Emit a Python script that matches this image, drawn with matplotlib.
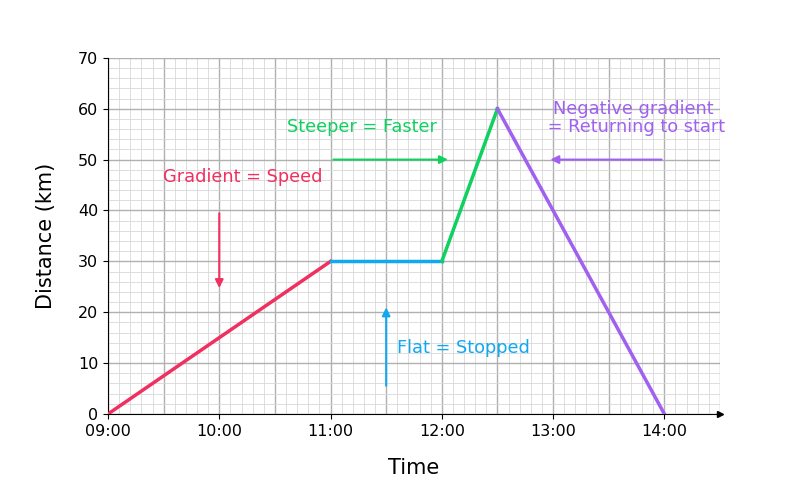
import matplotlib
matplotlib.use("Agg")
import matplotlib.pyplot as plt
import numpy as np

seg_x = [[9, 11], [11, 12], [12, 12.5], [12.5, 14]]
seg_y = [[0, 30], [30, 30], [30, 60], [60, 0]]
seg_c = ["#f03060", "#10a8f0", "#10d060", "#a060f0"]
xticks = [9, 10, 11, 12, 13, 14]
xlabels = ["09:00", "10:00", "11:00", "12:00", "13:00", "14:00"]

fig = plt.figure(figsize=(8, 4.8), dpi=100)
ax = fig.add_axes([0.135, 0.1375, 0.765, 0.742])
ax.set_xlim(9, 14.5)
ax.set_ylim(0, 70)
ax.set_xticks(xticks)
ax.set_xticklabels(xlabels)
ax.set_yticks(range(0, 71, 10))
for x in np.arange(9, 14.51, 0.1):
    major = abs((x * 2) - round(x * 2)) < 1e-6
    ax.axvline(x, color="#b0b0b0" if major else "#d8d8d8", lw=1.0 if major else 0.6, zorder=0)
for y in range(0, 71, 2):
    major = y % 10 == 0
    ax.axhline(y, color="#b0b0b0" if major else "#d8d8d8", lw=1.0 if major else 0.6, zorder=0)
for s in ["top", "right"]:
    ax.spines[s].set_visible(False)
ax.tick_params(labelsize=11.5)
ax.plot(1, 0, ">k", transform=ax.get_yaxis_transform(), clip_on=False, ms=5)
ax.plot(0, 1, "^k", transform=ax.get_xaxis_transform(), clip_on=False, ms=5)

for xs, ys, c in zip(seg_x, seg_y, seg_c):
    ax.plot(xs, ys, color=c, lw=2.5, zorder=3)

def arrow(x0, y0, x1, y1, c):
    ax.annotate("", xy=(x1, y1), xytext=(x0, y0),
                arrowprops=dict(arrowstyle="-|>", color=c, lw=1.5, mutation_scale=12))

arrow(10, 40, 10, 24.2, seg_c[0])
arrow(11, 50, 12.08, 50, seg_c[2])
arrow(11.5, 5, 11.5, 21.5, seg_c[1])
arrow(14, 50, 12.95, 50, seg_c[3])

fs = 12.8
ax.text(10.21, 46.5, "Gradient = Speed", color=seg_c[0], fontsize=fs, ha="center", va="center")
ax.text(11.28, 56.5, "Steeper = Faster", color=seg_c[2], fontsize=fs, ha="center", va="center")
ax.text(11.6, 13, "Flat = Stopped", color=seg_c[1], fontsize=fs, ha="left", va="center")
ax.text(13.72, 58.2, "Negative gradient\n = Returning to start", color=seg_c[3], fontsize=fs,
        ha="center", va="center", linespacing=1.05)

ax.set_xlabel("Time", fontsize=15, labelpad=14)
ax.set_ylabel("Distance (km)", fontsize=15, labelpad=16)
fig.savefig("out.png", dpi=100)
